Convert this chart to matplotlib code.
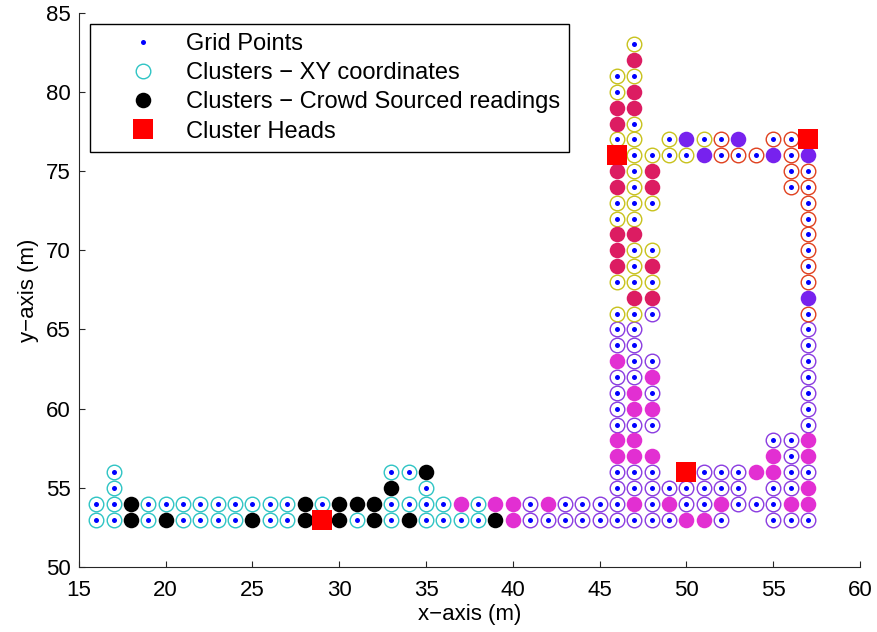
import matplotlib
matplotlib.use("Agg")
import matplotlib.pyplot as plt
from matplotlib.lines import Line2D

plt.rcParams['font.family'] = ['Liberation Sans', 'DejaVu Sans']

# Cluster members, keyed by row (y) -> list of x positions.
# "ring" = cluster membership from XY coordinates, "fill" = crowd-sourced readings.
c1_ring = {53: [16, 17, 19, 21, 22, 23, 24, 26, 27, 29, 31, 33, 35, 36, 37, 38],
           54: [16, 17, 19, 20, 21, 22, 23, 24, 25, 26, 27, 29, 33, 34, 35, 36, 38],
           55: [17, 35],
           56: [17, 33, 34]}
c1_fill = {53: [18, 20, 25, 28, 30, 32, 34, 39],
           54: [18, 28, 30, 31, 32],
           55: [33],
           56: [35]}

c2_ring = {53: [41, 42, 43, 44, 45, 46, 47, 48, 49, 52, 55, 56, 57],
           54: [41, 43, 44, 45, 46, 48, 50, 51, 53, 54, 55],
           55: [46, 47, 48, 49, 50, 51, 52, 53, 55, 56],
           56: [46, 47, 48, 50, 51, 52, 53, 56, 57],
           57: [56],
           58: [55, 56],
           59: [46, 47, 48, 57],
           60: [46, 57],
           61: [46, 48, 57],
           62: [46, 47, 57],
           63: [47, 48, 57],
           64: [46, 47, 57],
           65: [46, 47, 57],
           66: [48]}
c2_fill = {53: [40, 50, 51],
           54: [37, 39, 40, 42, 47, 49, 52, 56, 57],
           55: [57],
           56: [54, 55],
           57: [46, 47, 48, 55, 57],
           58: [46, 47, 57],
           60: [47, 48],
           61: [47],
           62: [48],
           63: [46]}

c3_ring = {66: [46, 47],
           68: [46, 47, 48],
           69: [47],
           70: [47, 48],
           72: [46, 47],
           73: [46, 47, 48],
           74: [47],
           75: [47],
           76: [46, 47, 48, 49, 50],
           77: [46, 47, 49, 51],
           78: [47],
           80: [46],
           81: [46, 47],
           83: [47]}
c3_fill = {67: [47, 48],
           69: [46, 48],
           70: [46],
           71: [46, 47],
           74: [46, 48],
           75: [46, 48],
           78: [46],
           79: [46, 47],
           80: [47],
           82: [47]}

c4_ring = {66: [57], 68: [57], 69: [57], 70: [57], 71: [57], 72: [57], 73: [57],
           74: [56, 57],
           75: [56, 57],
           76: [52, 53, 54, 56],
           77: [52, 55, 56, 57]}
c4_fill = {67: [57],
           76: [51, 55, 57],
           77: [50, 53]}

head_x = [29, 46, 50, 57]
head_y = [53, 76, 56, 77]

ring_colors = ['#2EC4C4', '#8A3BE0', '#C8C21C', '#E0401E']
fill_colors = ['#000000', '#E22FD2', '#DC1C62', '#7722EE']


def unpack(rows):
    xs, ys = [], []
    for y, row in rows.items():
        for x in row:
            xs.append(x)
            ys.append(y)
    return xs, ys


rings = [c1_ring, c2_ring, c3_ring, c4_ring]
fills = [c1_fill, c2_fill, c3_fill, c4_fill]

# every cluster member sits on a grid point
grid = set()
for d in rings + fills:
    gx, gy = unpack(d)
    grid.update(zip(gx, gy))
grid_x = [p[0] for p in sorted(grid)]
grid_y = [p[1] for p in sorted(grid)]

fig = plt.figure(figsize=(8.77, 6.32), dpi=100)
ax = fig.add_axes([0.090, 0.1028, 0.8906, 0.877])

ring_ms, ring_mew = 10.5, 1.0
fill_ms = 11.2

ax.plot(grid_x, grid_y, 'o', color='#0000FF', ms=3.6, mew=0, zorder=2)
for d, c in zip(rings, ring_colors):
    xs, ys = unpack(d)
    ax.plot(xs, ys, 'o', mfc='none', mec=c, ms=ring_ms, mew=ring_mew, zorder=3)
for d, c in zip(fills, fill_colors):
    xs, ys = unpack(d)
    ax.plot(xs, ys, 'o', color=c, ms=fill_ms, mew=0, zorder=4)
ax.plot(head_x, head_y, 's', color='#FF0000', ms=14, mew=0, zorder=5)

ax.set_xlim(15, 60)
ax.set_ylim(50, 85)
ax.set_xticks(range(15, 61, 5))
ax.set_yticks(range(50, 86, 5))
for s in ['top', 'right']:
    ax.spines[s].set_visible(False)
for s in ['left', 'bottom']:
    ax.spines[s].set_linewidth(0.8)
    ax.spines[s].set_color('#262626')
ax.tick_params(direction='in', length=4.5, width=0.8, labelsize=16,
               color='#262626')
ax.tick_params(axis='x', pad=9)
ax.tick_params(axis='y', pad=6)
ax.set_xlabel('x\u2212axis (m)', fontsize=16, labelpad=2.5)
ax.set_ylabel('y\u2212axis (m)', fontsize=16, labelpad=5)

handles = [
    Line2D([], [], ls='none', marker='o', color='#0000FF', ms=3.6, mew=0),
    Line2D([], [], ls='none', marker='o', mfc='none', mec=ring_colors[0], ms=ring_ms, mew=ring_mew),
    Line2D([], [], ls='none', marker='o', color='#000000', ms=fill_ms, mew=0),
    Line2D([], [], ls='none', marker='s', color='#FF0000', ms=14, mew=0),
]
labels = ['Grid Points', 'Clusters \u2212 XY coordinates',
          'Clusters \u2212 Crowd Sourced readings', 'Cluster Heads']
leg = ax.legend(handles, labels, loc='upper left', bbox_to_anchor=(0.014, 0.98),
                borderaxespad=0, fontsize=17, fancybox=False, framealpha=1,
                edgecolor='black', handlelength=3.66, handletextpad=0.0,
                labelspacing=0.3, borderpad=0.4)
leg.get_frame().set_linewidth(1.0)

fig.savefig('out.png', dpi=100)
